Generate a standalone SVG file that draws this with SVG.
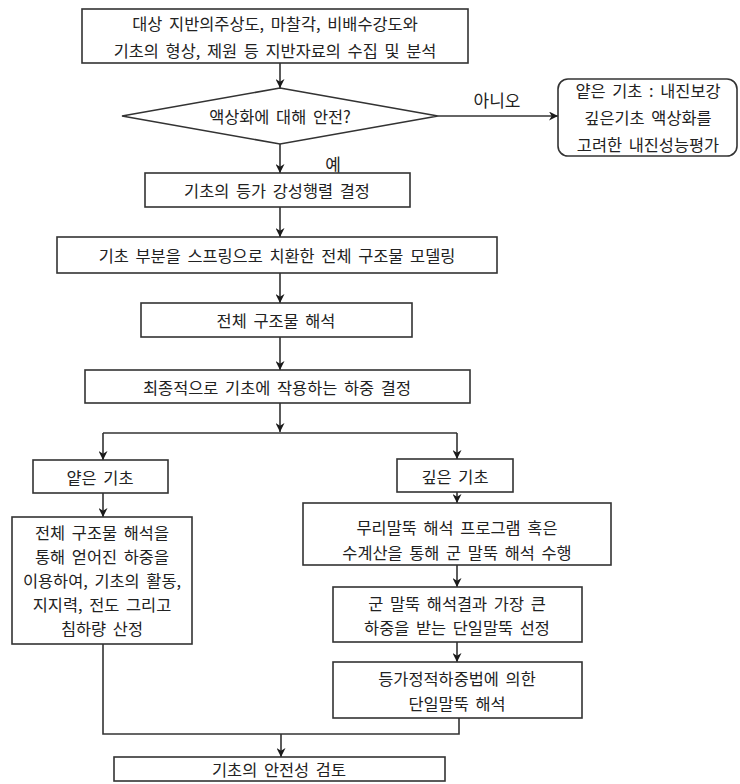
<svg xmlns="http://www.w3.org/2000/svg" width="740" height="784" viewBox="0 0 740 784">
<style>
  .box { fill: #ffffff; stroke: #333333; stroke-width: 1.6; }
  .t { font-family: "Noto Sans CJK KR", "Noto Sans", sans-serif; font-size: 16.4px; fill: #222222; text-anchor: middle; dominant-baseline: central; word-spacing: 3px; }
  .lbl { font-size: 17px; }
  .c { fill: none; stroke: #333333; stroke-width: 1.6; }
  .a { marker-end: url(#arr); }
</style>
<defs>
  <marker id="arr" viewBox="0 0 10 10" refX="10" refY="5" markerWidth="9" markerHeight="9" markerUnits="userSpaceOnUse" orient="auto">
    <path d="M0,0 L10,5 L0,10 L3,5 z" fill="#1a1a1a"/>
  </marker>
</defs>
<rect width="740" height="784" fill="#ffffff"/>

<g id="connectors">
  <path class="c a" d="M280,63 V88"/>
  <path class="c a" d="M438,116 H558"/>
  <path class="c a" d="M280,144 V173"/>
  <path class="c a" d="M280,207 V237"/>
  <path class="c a" d="M280,273 V303"/>
  <path class="c a" d="M280,337 V370"/>
  <path class="c a" d="M280,403 V432"/>
  <path class="c" d="M103,433 H457"/>
  <path class="c a" d="M103,433 V460"/>
  <path class="c a" d="M457,433 V459"/>
  <path class="c a" d="M103,493 V517"/>
  <path class="c a" d="M457,492 V503"/>
  <path class="c a" d="M457,565 V587"/>
  <path class="c a" d="M457,642 V662"/>
  <path class="c" d="M103,644 V734 H459 V718"/>
  <path class="c a" d="M281,734 V757"/>
  <text class="t lbl" x="497" y="99">아니오</text>
  <text class="t lbl" x="333" y="163">예</text>
</g>

<g id="n1">
  <rect class="box" x="82" y="9" width="386" height="54"/>
  <text class="t" x="275" y="23">대상 지반의주상도, 마찰각, 비배수강도와</text>
  <text class="t" x="275" y="50">기초의 형상, 제원 등 지반자료의 수집 및 분석</text>
</g>
<g id="n2">
  <polygon class="box" points="280,88 438,116 280,144 122,116"/>
  <text class="t" x="280" y="116">액상화에 대해 안전?</text>
</g>
<g id="n3">
  <rect class="box" x="558" y="79" width="179" height="77" rx="10" ry="10"/>
  <text class="t" x="648" y="90">얕은 기초 : 내진보강</text>
  <text class="t" x="648" y="117">깊은기초 액상화를</text>
  <text class="t" x="648" y="144">고려한 내진성능평가</text>
</g>
<g id="n4">
  <rect class="box" x="145" y="173" width="265" height="34"/>
  <text class="t" x="277" y="190">기초의 등가 강성행렬 결정</text>
</g>
<g id="n5">
  <rect class="box" x="57" y="237" width="440" height="36"/>
  <text class="t" x="277" y="255">기초 부분을 스프링으로 치환한 전체 구조물 모델링</text>
</g>
<g id="n6">
  <rect class="box" x="141" y="303" width="271" height="34"/>
  <text class="t" x="276" y="320">전체 구조물 해석</text>
</g>
<g id="n7">
  <rect class="box" x="85" y="370" width="385" height="33"/>
  <text class="t" x="277" y="387">최종적으로 기초에 작용하는 하중 결정</text>
</g>
<g id="n8">
  <rect class="box" x="33" y="460" width="135" height="33"/>
  <text class="t" x="100" y="477">얕은 기초</text>
</g>
<g id="n9">
  <rect class="box" x="397" y="459" width="116" height="33"/>
  <text class="t" x="455" y="476">깊은 기초</text>
</g>
<g id="n10">
  <rect class="box" x="12" y="517" width="180" height="127"/>
  <text class="t" x="102" y="532">전체 구조물 해석을</text>
  <text class="t" x="102" y="556">통해 얻어진 하중을</text>
  <text class="t" x="102" y="580">이용하여, 기초의 활동,</text>
  <text class="t" x="102" y="604">지지력, 전도 그리고</text>
  <text class="t" x="102" y="628">침하량 산정</text>
</g>
<g id="n11">
  <rect class="box" x="303" y="503" width="308" height="62"/>
  <text class="t" x="457" y="527">무리말뚝 해석 프로그램 혹은</text>
  <text class="t" x="457" y="552">수계산을 통해 군 말뚝 해석 수행</text>
</g>
<g id="n12">
  <rect class="box" x="333" y="587" width="249" height="55"/>
  <text class="t" x="457" y="603">군 말뚝 해석결과 가장 큰</text>
  <text class="t" x="457" y="627">하중을 받는 단일말뚝 선정</text>
</g>
<g id="n13">
  <rect class="box" x="333" y="662" width="249" height="56"/>
  <text class="t" x="457" y="678">등가정적하중법에 의한</text>
  <text class="t" x="457" y="703">단일말뚝 해석</text>
</g>
<g id="n14">
  <rect class="box" x="114" y="757" width="331" height="24"/>
  <text class="t" x="279" y="769">기초의 안전성 검토</text>
</g>
</svg>
